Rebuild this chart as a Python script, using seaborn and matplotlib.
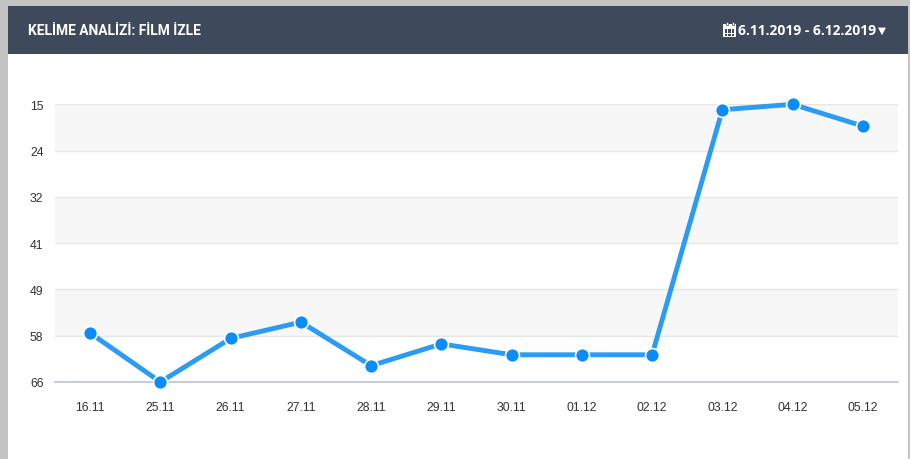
import matplotlib
matplotlib.use("Agg")
import matplotlib.pyplot as plt
from matplotlib.patches import Rectangle
import seaborn as sns
import pandas as pd

dates = ["16.11", "25.11", "26.11", "27.11", "28.11", "29.11",
         "30.11", "01.12", "02.12", "03.12", "04.12", "05.12"]
ranks = [57, 66, 58, 55, 63, 59, 61, 61, 61, 16, 15, 19]
tick_values = [15, 23.5, 32, 40.5, 49, 57.5, 66]
tick_labels = ["15", "24", "32", "41", "49", "58", "66"]
title = "KELİME ANALİZİ: FİLM İZLE"
date_range = "6.11.2019 - 6.12.2019"

sns.set_style("white")
plt.rcParams['font.family'] = ['Liberation Sans', 'DejaVu Sans']

W, H = 910, 460
fig = plt.figure(figsize=(W / 100, H / 100), dpi=100)
fig.patch.set_facecolor("#c4c4c4")

def fx(px):
    return px / W

def fy(py):
    return 1 - py / H

# card & header
fig.patches.append(Rectangle((fx(8), 0), fx(908) - fx(8), fy(7), transform=fig.transFigure,
                             facecolor="white", edgecolor="none", zorder=0))
fig.patches.append(Rectangle((fx(8), fy(55)), fx(908) - fx(8), fy(7) - fy(55), transform=fig.transFigure,
                             facecolor="#3e4a5b", edgecolor="none", zorder=1))
fig.text(fx(28), fy(31), title, color="white", fontsize=9.9, fontweight="bold",
         family=["Roboto", "DejaVu Sans"], va="center", ha="left")
fig.text(fx(876), fy(31), date_range, color="white", fontsize=10, fontweight="bold",
         family=["Open Sans", "DejaVu Sans"], va="center", ha="right")
fig.text(fx(878), fy(31), "▼", color="white", fontsize=7.5, family=["DejaVu Sans"],
         va="center", ha="left")
# calendar icon
cx, cy, cw, ch = 723, 25, 13, 13
fig.patches.append(Rectangle((fx(cx), fy(cy + ch)), fx(cw), ch / H, transform=fig.transFigure,
                             facecolor="white", edgecolor="none", zorder=2))
for rx in (cx + 2.5, cx + 8.5):
    fig.patches.append(Rectangle((fx(rx), fy(cy + 1)), fx(2), 3 / H, transform=fig.transFigure,
                                 facecolor="white", edgecolor="#3e4a5b", lw=0.5, zorder=4))
for i in range(3):
    for j in range(3):
        fig.patches.append(Rectangle((fx(cx + 1.5 + i * 3.6), fy(cy + 4.5 + j * 2.9 + 2.0)), fx(2.4), 2.0 / H,
                                     transform=fig.transFigure, facecolor="#3e4a5b",
                                     edgecolor="none", zorder=3))

ax = fig.add_axes([fx(55), fy(383), fx(898) - fx(55), fy(105.3) - fy(383)])
ax.set_zorder(10)
ax.set_facecolor("none")

df = pd.DataFrame({"date": dates, "rank": ranks})
sns.lineplot(data=df, x="date", y="rank", sort=False, ax=ax, color="#2b9cf2",
             linewidth=3.5, marker="o", markersize=10, markerfacecolor="#0a8cfa",
             markeredgecolor="white", markeredgewidth=1.2, zorder=5, clip_on=False)

ax.set_xlim(-0.5, len(dates) - 0.5)
ax.set_ylim(66, 15)

for k in range(0, len(tick_values) - 1, 2):
    ax.axhspan(tick_values[k], tick_values[k + 1], color="#f7f7f7", zorder=0, lw=0)
for v in tick_values[:-1]:
    ax.axhline(v, color="#e6e6e6", lw=1, zorder=1)

ax.set_yticks(tick_values)
ax.set_yticklabels(tick_labels)
ax.set_xticks(range(len(dates)))
ax.set_xticklabels(dates)
ax.set_xticks([i + 0.5 for i in range(-1, len(dates))], minor=True)
ax.tick_params(axis="x", which="major", length=0, pad=14, labelsize=8.8, labelcolor="#333333")
ax.tick_params(axis="x", which="minor", length=7, width=1, color="#ccd6eb", direction="out")
ax.tick_params(axis="y", length=0, pad=18, labelsize=8.8, labelcolor="#333333")
for lbl in ax.get_yticklabels():
    lbl.set_horizontalalignment("left")

for s in ["top", "right", "left"]:
    ax.spines[s].set_visible(False)
ax.spines["bottom"].set_color("#b7c3d6")
ax.spines["bottom"].set_linewidth(1.2)
ax.set_xlabel("")
ax.set_ylabel("")

fig.savefig("out.png", dpi=100, facecolor=fig.get_facecolor())
